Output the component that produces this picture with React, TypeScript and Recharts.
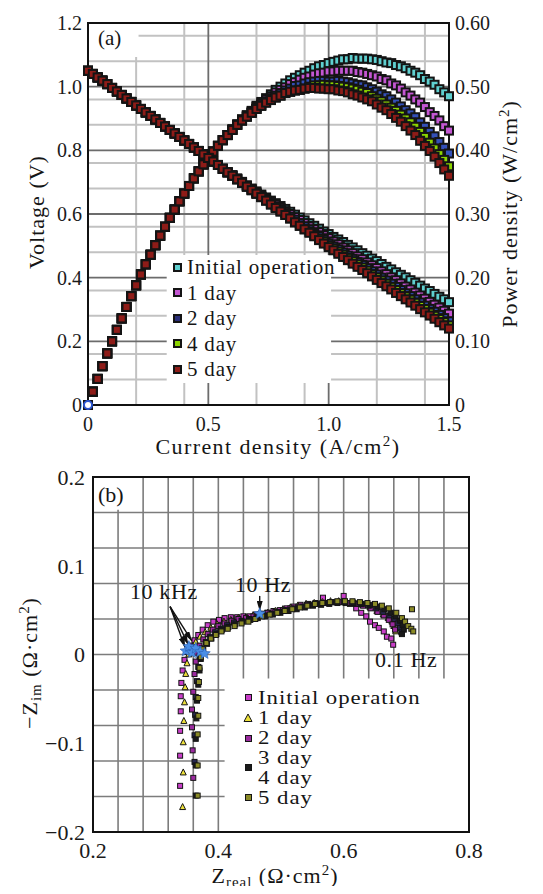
import React from 'react';
import { ScatterChart, Scatter, XAxis, YAxis, CartesianGrid, ReferenceArea, ReferenceLine } from 'recharts';

const FONT = '"Liberation Serif", "Times New Roman", serif';

// ---------- (a) voltage & power density vs current density ----------
const currentDensity = [
  0, 0.02, 0.04, 0.06, 0.08, 0.1, 0.12, 0.14, 0.16, 0.18,
  0.2, 0.22, 0.24, 0.26, 0.28, 0.3, 0.32, 0.34, 0.36, 0.38,
  0.4, 0.42, 0.44, 0.46, 0.48, 0.5, 0.52, 0.54, 0.56, 0.58,
  0.6, 0.62, 0.64, 0.66, 0.68, 0.7, 0.72, 0.74, 0.76, 0.78,
  0.8, 0.82, 0.84, 0.86, 0.88, 0.9, 0.92, 0.94, 0.96, 0.98,
  1.0, 1.02, 1.04, 1.06, 1.08, 1.1, 1.12, 1.14, 1.16, 1.18,
  1.2, 1.22, 1.24, 1.26, 1.28, 1.3, 1.32, 1.34, 1.36, 1.38,
  1.4, 1.42, 1.44, 1.46, 1.48, 1.5,
];

const voltageInitial = [
  1.050, 1.040, 1.029, 1.019, 1.008, 0.996, 0.985, 0.974, 0.963, 0.952,
  0.941, 0.930, 0.919, 0.908, 0.897, 0.886, 0.875, 0.864, 0.853, 0.842,
  0.831, 0.820, 0.809, 0.798, 0.787, 0.776, 0.765, 0.754, 0.742, 0.731,
  0.722, 0.712, 0.701, 0.690, 0.680, 0.671, 0.661, 0.652, 0.642, 0.634,
  0.625, 0.616, 0.607, 0.598, 0.589, 0.580, 0.571, 0.563, 0.554, 0.545,
  0.537, 0.528, 0.520, 0.512, 0.503, 0.495, 0.486, 0.477, 0.469, 0.460,
  0.452, 0.443, 0.434, 0.426, 0.417, 0.409, 0.401, 0.392, 0.384, 0.375,
  0.366, 0.358, 0.349, 0.340, 0.332, 0.323,
];
const voltage1Day = [
  1.050, 1.040, 1.029, 1.019, 1.008, 0.996, 0.985, 0.974, 0.963, 0.952,
  0.941, 0.930, 0.919, 0.908, 0.897, 0.886, 0.875, 0.864, 0.853, 0.842,
  0.831, 0.820, 0.809, 0.798, 0.787, 0.776, 0.765, 0.754, 0.742, 0.731,
  0.721, 0.710, 0.699, 0.689, 0.678, 0.668, 0.658, 0.648, 0.638, 0.629,
  0.619, 0.609, 0.600, 0.590, 0.581, 0.571, 0.561, 0.552, 0.543, 0.533,
  0.524, 0.514, 0.505, 0.495, 0.486, 0.477, 0.467, 0.458, 0.448, 0.439,
  0.430, 0.420, 0.411, 0.401, 0.392, 0.382, 0.372, 0.363, 0.353, 0.344,
  0.334, 0.324, 0.315, 0.306, 0.296, 0.287,
];
const voltage2Day = [
  1.050, 1.040, 1.029, 1.019, 1.008, 0.996, 0.985, 0.974, 0.963, 0.952,
  0.941, 0.930, 0.919, 0.908, 0.897, 0.886, 0.875, 0.864, 0.853, 0.842,
  0.831, 0.820, 0.809, 0.798, 0.787, 0.776, 0.765, 0.754, 0.742, 0.731,
  0.720, 0.709, 0.698, 0.686, 0.675, 0.664, 0.654, 0.644, 0.634, 0.623,
  0.613, 0.603, 0.592, 0.582, 0.571, 0.561, 0.551, 0.540, 0.530, 0.519,
  0.508, 0.498, 0.489, 0.479, 0.469, 0.459, 0.449, 0.440, 0.430, 0.420,
  0.410, 0.400, 0.391, 0.381, 0.371, 0.361, 0.351, 0.342, 0.332, 0.322,
  0.312, 0.302, 0.293, 0.283, 0.273, 0.263,
];
const voltage4Day = [
  1.050, 1.040, 1.029, 1.019, 1.008, 0.996, 0.985, 0.974, 0.963, 0.952,
  0.941, 0.930, 0.919, 0.908, 0.897, 0.886, 0.875, 0.864, 0.853, 0.842,
  0.831, 0.820, 0.809, 0.798, 0.787, 0.776, 0.765, 0.754, 0.742, 0.731,
  0.720, 0.709, 0.698, 0.686, 0.675, 0.664, 0.653, 0.642, 0.630, 0.619,
  0.608, 0.597, 0.586, 0.574, 0.563, 0.552, 0.544, 0.534, 0.523, 0.513,
  0.502, 0.492, 0.482, 0.472, 0.462, 0.452, 0.442, 0.432, 0.422, 0.411,
  0.401, 0.391, 0.381, 0.371, 0.361, 0.351, 0.341, 0.331, 0.321, 0.311,
  0.301, 0.290, 0.280, 0.270, 0.260, 0.250,
];
const voltage5Day = [
  1.050, 1.040, 1.029, 1.019, 1.008, 0.996, 0.985, 0.974, 0.963, 0.952,
  0.941, 0.930, 0.919, 0.908, 0.897, 0.886, 0.875, 0.864, 0.853, 0.842,
  0.831, 0.820, 0.809, 0.798, 0.787, 0.776, 0.765, 0.754, 0.742, 0.731,
  0.720, 0.709, 0.698, 0.686, 0.675, 0.664, 0.653, 0.642, 0.630, 0.619,
  0.608, 0.597, 0.586, 0.574, 0.563, 0.552, 0.541, 0.530, 0.518, 0.507,
  0.496, 0.486, 0.475, 0.465, 0.455, 0.444, 0.434, 0.424, 0.414, 0.404,
  0.393, 0.383, 0.373, 0.363, 0.352, 0.342, 0.332, 0.322, 0.312, 0.301,
  0.291, 0.281, 0.271, 0.260, 0.250, 0.240,
];

const powerInitial = [
  0, 0.021, 0.041, 0.061, 0.081, 0.100, 0.118, 0.136, 0.154, 0.171,
  0.188, 0.205, 0.221, 0.236, 0.251, 0.266, 0.280, 0.294, 0.307, 0.320,
  0.332, 0.344, 0.356, 0.367, 0.378, 0.388, 0.398, 0.407, 0.416, 0.424,
  0.433, 0.441, 0.449, 0.455, 0.462, 0.470, 0.476, 0.482, 0.488, 0.495,
  0.500, 0.505, 0.510, 0.514, 0.518, 0.522, 0.525, 0.529, 0.532, 0.534,
  0.537, 0.539, 0.541, 0.543, 0.543, 0.545, 0.544, 0.544, 0.544, 0.543,
  0.542, 0.540, 0.538, 0.537, 0.534, 0.532, 0.529, 0.525, 0.522, 0.518,
  0.512, 0.508, 0.503, 0.496, 0.491, 0.485,
];
const power1Day = [
  0, 0.021, 0.041, 0.061, 0.081, 0.100, 0.118, 0.136, 0.154, 0.171,
  0.188, 0.205, 0.221, 0.236, 0.251, 0.266, 0.280, 0.294, 0.307, 0.320,
  0.332, 0.344, 0.356, 0.367, 0.378, 0.388, 0.398, 0.407, 0.416, 0.424,
  0.433, 0.440, 0.447, 0.455, 0.461, 0.468, 0.474, 0.480, 0.485, 0.491,
  0.495, 0.499, 0.504, 0.507, 0.511, 0.514, 0.516, 0.519, 0.521, 0.522,
  0.524, 0.524, 0.525, 0.525, 0.525, 0.525, 0.523, 0.522, 0.520, 0.518,
  0.516, 0.512, 0.510, 0.505, 0.502, 0.497, 0.491, 0.486, 0.480, 0.475,
  0.468, 0.460, 0.454, 0.447, 0.438, 0.431,
];
const power2Day = [
  0, 0.021, 0.041, 0.061, 0.081, 0.100, 0.118, 0.136, 0.154, 0.171,
  0.188, 0.205, 0.221, 0.236, 0.251, 0.266, 0.280, 0.294, 0.307, 0.320,
  0.332, 0.344, 0.356, 0.367, 0.378, 0.388, 0.398, 0.407, 0.416, 0.424,
  0.432, 0.440, 0.447, 0.453, 0.459, 0.465, 0.471, 0.477, 0.482, 0.486,
  0.490, 0.494, 0.497, 0.501, 0.502, 0.505, 0.507, 0.508, 0.509, 0.509,
  0.508, 0.508, 0.509, 0.508, 0.507, 0.505, 0.503, 0.502, 0.499, 0.496,
  0.492, 0.488, 0.485, 0.480, 0.475, 0.469, 0.463, 0.458, 0.452, 0.444,
  0.437, 0.429, 0.422, 0.413, 0.404, 0.395,
];
const power4Day = [
  0, 0.021, 0.041, 0.061, 0.081, 0.100, 0.118, 0.136, 0.154, 0.171,
  0.188, 0.205, 0.221, 0.236, 0.251, 0.266, 0.280, 0.294, 0.307, 0.320,
  0.332, 0.344, 0.356, 0.367, 0.378, 0.388, 0.398, 0.407, 0.416, 0.424,
  0.432, 0.440, 0.447, 0.453, 0.459, 0.465, 0.470, 0.475, 0.479, 0.483,
  0.486, 0.490, 0.492, 0.494, 0.495, 0.497, 0.500, 0.502, 0.502, 0.503,
  0.502, 0.502, 0.501, 0.500, 0.499, 0.497, 0.495, 0.492, 0.490, 0.485,
  0.481, 0.477, 0.472, 0.467, 0.462, 0.456, 0.450, 0.444, 0.437, 0.429,
  0.421, 0.412, 0.403, 0.394, 0.385, 0.375,
];
const power5Day = [
  0, 0.021, 0.041, 0.061, 0.081, 0.100, 0.118, 0.136, 0.154, 0.171,
  0.188, 0.205, 0.221, 0.236, 0.251, 0.266, 0.280, 0.294, 0.307, 0.320,
  0.332, 0.344, 0.356, 0.367, 0.378, 0.388, 0.398, 0.407, 0.416, 0.424,
  0.432, 0.440, 0.447, 0.453, 0.459, 0.465, 0.470, 0.475, 0.479, 0.483,
  0.486, 0.490, 0.492, 0.494, 0.495, 0.497, 0.498, 0.498, 0.497, 0.497,
  0.496, 0.496, 0.494, 0.493, 0.491, 0.488, 0.486, 0.483, 0.480, 0.477,
  0.472, 0.467, 0.463, 0.457, 0.451, 0.445, 0.438, 0.431, 0.424, 0.415,
  0.407, 0.399, 0.390, 0.380, 0.370, 0.360,
];
const originPoint = [{ x: 0, y: 0 }];

const currentTicks = [0, 0.5, 1.0, 1.5];
const voltageTicks = [0, 0.2, 0.4, 0.6, 0.8, 1.0, 1.2];
const powerTicks = [0, 0.1, 0.2, 0.3, 0.4, 0.5, 0.6];

// ---------- (b) impedance spectra (Zreal, -Zim) ----------
const nyqInitial = [
  [0.339, -0.148], [0.339, -0.114], [0.339, -0.086], [0.340, -0.064], [0.340, -0.047], [0.341, -0.032],
  [0.343, -0.018], [0.346, -0.006], [0.350, 0.003], [0.356, 0.010], [0.362, 0.016], [0.368, 0.022],
  [0.375, 0.028], [0.383, 0.033], [0.392, 0.037], [0.401, 0.039], [0.410, 0.041], [0.420, 0.042],
  [0.430, 0.042], [0.440, 0.043], [0.450, 0.043], [0.459, 0.045], [0.468, 0.046], [0.478, 0.047],
  [0.488, 0.049], [0.498, 0.050], [0.509, 0.052], [0.520, 0.054], [0.531, 0.056], [0.543, 0.057],
  [0.555, 0.058], [0.567, 0.064], [0.580, 0.059], [0.590, 0.059], [0.600, 0.066], [0.610, 0.057],
  [0.620, 0.052], [0.628, 0.047], [0.636, 0.043], [0.642, 0.037], [0.650, 0.033], [0.656, 0.030],
  [0.664, 0.026], [0.669, 0.020], [0.676, 0.018], [0.679, 0.011],
];
const nyq1Day = [
  [0.343, -0.172], [0.344, -0.133], [0.344, -0.099], [0.345, -0.075], [0.346, -0.054], [0.347, -0.037],
  [0.348, -0.022], [0.350, -0.010], [0.353, 0.000], [0.358, 0.008], [0.364, 0.014], [0.371, 0.020],
  [0.379, 0.025], [0.388, 0.030], [0.398, 0.034], [0.409, 0.037], [0.420, 0.039], [0.432, 0.041],
  [0.444, 0.042], [0.456, 0.044], [0.467, 0.045], [0.479, 0.047], [0.491, 0.049], [0.503, 0.051],
  [0.515, 0.053], [0.527, 0.055], [0.540, 0.057], [0.553, 0.058], [0.566, 0.059], [0.579, 0.060],
  [0.592, 0.060], [0.605, 0.059], [0.618, 0.058], [0.630, 0.056], [0.642, 0.053], [0.653, 0.049],
  [0.663, 0.045], [0.671, 0.041], [0.677, 0.037], [0.680, 0.032], [0.683, 0.026],
];
const nyq2Day = [
  [0.360, -0.139], [0.359, -0.108], [0.358, -0.082], [0.358, -0.062], [0.360, -0.042], [0.362, -0.022],
  [0.364, -0.008], [0.366, 0.002], [0.370, 0.010], [0.376, 0.017], [0.383, 0.023], [0.391, 0.028],
  [0.400, 0.032], [0.410, 0.035], [0.421, 0.038], [0.432, 0.040], [0.444, 0.041], [0.456, 0.043],
  [0.467, 0.045], [0.479, 0.047], [0.491, 0.048], [0.503, 0.050], [0.515, 0.052], [0.528, 0.054],
  [0.541, 0.056], [0.554, 0.057], [0.567, 0.058], [0.580, 0.059], [0.593, 0.059], [0.606, 0.058],
  [0.619, 0.057], [0.631, 0.055], [0.643, 0.052], [0.654, 0.048], [0.664, 0.044], [0.672, 0.039],
  [0.678, 0.034], [0.682, 0.028],
];
const nyq3Day = [
  [0.362, -0.121], [0.362, -0.091], [0.363, -0.068], [0.364, -0.048], [0.366, -0.030], [0.368, -0.014],
  [0.370, -0.002], [0.374, 0.007], [0.380, 0.014], [0.387, 0.020], [0.395, 0.025], [0.404, 0.029],
  [0.414, 0.033], [0.425, 0.036], [0.437, 0.038], [0.449, 0.040], [0.461, 0.042], [0.473, 0.044],
  [0.485, 0.046], [0.497, 0.048], [0.510, 0.050], [0.523, 0.052], [0.536, 0.054], [0.549, 0.056],
  [0.562, 0.057], [0.575, 0.058], [0.588, 0.059], [0.601, 0.059], [0.614, 0.058], [0.627, 0.057],
  [0.640, 0.055], [0.652, 0.052], [0.663, 0.048], [0.673, 0.044], [0.681, 0.040], [0.687, 0.035],
  [0.690, 0.030], [0.692, 0.025],
];
const nyq4Day = [
  [0.364, -0.159], [0.364, -0.125], [0.364, -0.095], [0.365, -0.072], [0.366, -0.052], [0.368, -0.034],
  [0.370, -0.018], [0.372, -0.005], [0.376, 0.005], [0.382, 0.012], [0.389, 0.018], [0.397, 0.023],
  [0.406, 0.028], [0.416, 0.031], [0.427, 0.034], [0.439, 0.037], [0.451, 0.039], [0.463, 0.041],
  [0.475, 0.043], [0.487, 0.045], [0.499, 0.047], [0.512, 0.049], [0.525, 0.051], [0.538, 0.053],
  [0.551, 0.055], [0.564, 0.056], [0.577, 0.057], [0.590, 0.058], [0.603, 0.058], [0.616, 0.058],
  [0.629, 0.057], [0.642, 0.056], [0.654, 0.054], [0.665, 0.051], [0.675, 0.047], [0.683, 0.043],
  [0.690, 0.038], [0.694, 0.033], [0.696, 0.028], [0.693, 0.023],
];
const nyq5Day = [
  [0.367, -0.159], [0.367, -0.125], [0.367, -0.090], [0.368, -0.069], [0.368, -0.049], [0.369, -0.031],
  [0.370, -0.015], [0.372, -0.003], [0.375, 0.006], [0.381, 0.013], [0.388, 0.018], [0.396, 0.022],
  [0.405, 0.026], [0.415, 0.029], [0.426, 0.032], [0.437, 0.035], [0.448, 0.037], [0.459, 0.040],
  [0.470, 0.043], [0.482, 0.045], [0.494, 0.047], [0.506, 0.049], [0.518, 0.051], [0.530, 0.053],
  [0.542, 0.055], [0.554, 0.057], [0.566, 0.058], [0.578, 0.059], [0.590, 0.060], [0.602, 0.060],
  [0.614, 0.060], [0.626, 0.059], [0.638, 0.058], [0.650, 0.057], [0.661, 0.055], [0.672, 0.052],
  [0.684, 0.047], [0.693, 0.041], [0.698, 0.037], [0.703, 0.032], [0.708, 0.029], [0.711, 0.026],
  [0.709, 0.051],
];
// highlighted 10 kHz and 10 Hz points
const nyqHighlight = [
  [0.348, 0.004], [0.353, 0.009], [0.358, 0.002], [0.364, 0.007], [0.371, 0.003], [0.378, 0.001], [0.466, 0.046],
];

const zRealTicks = [0.2, 0.4, 0.6, 0.8];
const zImTicks = [-0.2, -0.1, 0, 0.1, 0.2];

// grid lines (layout only)
const round = (v: number) => Math.round(v * 1000) / 1000;
const minorCurrent = Array.from({ length: 14 }, (_, i) => round(0.1 * (i + 1))).filter((v) => v !== 0.5 && v !== 1);
const minorVoltage = Array.from({ length: 29 }, (_, i) => round(0.04 * (i + 1))).filter((v) => Math.round(v * 1000) % 200 !== 0);
const gridZReal = Array.from({ length: 16 }, (_, i) => round(0.2 + 0.04 * i));
const gridZIm = Array.from({ length: 21 }, (_, i) => round(-0.2 + 0.02 * i));

const toPts = (xs: number[], ys: number[]) => xs.map((x, i) => ({ x, y: ys[i] }));
const pairPts = (arr: number[][]) => arr.map(([x, y]) => ({ x, y }));

const seriesA = [
  { name: 'Initial operation', color: '#5fd0d0', v: voltageInitial, p: powerInitial },
  { name: '1 day', color: '#c456d2', v: voltage1Day, p: power1Day },
  { name: '2 day', color: '#3350b8', v: voltage2Day, p: power2Day },
  { name: '4 day', color: '#8cd400', v: voltage4Day, p: power4Day },
  { name: '5 day', color: '#8e1c18', v: voltage5Day, p: power5Day },
];
const legendColorsA = ['#5fd0d0', '#c456d2', '#2a2e78', '#8cd400', '#8e1c18'];

const seriesB = [
  { name: 'Initial operation', color: '#c83ec8', data: nyqInitial, tri: false },
  { name: '1 day', color: '#ece03a', data: nyq1Day, tri: true },
  { name: '2 day', color: '#9a2a9e', data: nyq2Day, tri: false },
  { name: '3 day', color: '#26264e', data: nyq3Day, tri: false },
  { name: '4 day', color: '#1a1a1a', data: nyq4Day, tri: false },
  { name: '5 day', color: '#8a8a26', data: nyq5Day, tri: false },
];

const square = (fill: string, size: number, sw: number) => (props: any) => (
  <rect x={props.cx - size / 2} y={props.cy - size / 2} width={size} height={size} fill={fill} stroke="#141414" strokeWidth={sw} />
);
const triangle = (fill: string, size: number) => (props: any) => (
  <polygon
    points={`${props.cx},${props.cy - size * 0.6} ${props.cx - size / 2},${props.cy + size * 0.4} ${props.cx + size / 2},${props.cy + size * 0.4}`}
    fill={fill}
    stroke="#141414"
    strokeWidth={1}
  />
);
const star = (fill: string, r: number) => (props: any) => {
  const pts: string[] = [];
  for (let k = 0; k < 10; k++) {
    const rad = k % 2 === 0 ? r : r * 0.45;
    const a = (Math.PI / 5) * k - Math.PI / 2;
    pts.push(`${props.cx + rad * Math.cos(a)},${props.cy + rad * Math.sin(a)}`);
  }
  return <polygon points={pts.join(' ')} fill={fill} stroke="#2a5cb0" strokeWidth={0.6} />;
};
const ring = (props: any) => <circle cx={props.cx} cy={props.cy} r={4} fill="#fff" stroke="#2a55d0" strokeWidth={2} />;

const tickStyle = (size: number) => ({ fill: '#1a1a1a', fontSize: size, fontFamily: FONT });
const frame = { stroke: '#111', strokeWidth: 2 };
const fmtA = (v: number) => (v === 0 ? '0' : v.toFixed(1));
const fmtP = (v: number) => (v === 0 ? '0' : v.toFixed(2));
const fmtB = (v: number) => (v === 0 ? '0' : (v < 0 ? '\u2212' : '') + Math.abs(v).toFixed(1));

const sup = (s: string) => <span style={{ fontSize: '0.68em', position: 'relative', top: '-0.55em' }}>{s}</span>;
const sub = (s: string) => <span style={{ fontSize: '0.68em', position: 'relative', top: '0.3em' }}>{s}</span>;

function Txt({ x, y, size, children, center = false, rotate = false, spacing = 0, lh = 1, stretch = 1 }: any) {
  const base = rotate ? 'translate(-50%,-50%) rotate(-90deg)' : center ? 'translate(-50%,-50%)' : 'translateY(-50%)';
  const transform = stretch !== 1 ? `${base} scaleX(${stretch})` : base;
  return (
    <div
      style={{
        position: 'absolute', left: x, top: y, transform, transformOrigin: rotate || center ? '50% 50%' : '0 50%',
        whiteSpace: 'nowrap', fontFamily: FONT, fontSize: size, lineHeight: lh, color: '#151515',
        letterSpacing: spacing, pointerEvents: 'none',
      }}
    >
      {children}
    </div>
  );
}

function Swatch({ x, y, color, size, border }: any) {
  return (
    <div
      style={{
        position: 'absolute', left: x - size / 2, top: y - size / 2, width: size, height: size,
        boxSizing: 'border-box', background: color, border: `${border}px solid #141414`,
      }}
    />
  );
}

function PanelA() {
  const legendRows = [259, 284.5, 310, 335.5, 361];
  return (
    <div style={{ position: 'relative', width: 527, height: 440 }}>
      <ScatterChart width={527} height={440} margin={{ top: 15, right: 26, left: 0, bottom: 13 }}>
        <CartesianGrid yAxisId="v" stroke="#c2c2c2" strokeWidth={2} horizontalValues={minorVoltage} verticalValues={minorCurrent} />
        <CartesianGrid yAxisId="v" stroke="#6c6c6c" strokeWidth={1.8} horizontalValues={voltageTicks} verticalValues={currentTicks} />
        <XAxis
          type="number" dataKey="x" domain={[0, 1.5]} ticks={currentTicks} tickFormatter={fmtA}
          height={30} tickSize={0} tickMargin={12} axisLine={frame} tickLine={false} tick={tickStyle(20)}
        />
        <YAxis
          yAxisId="v" type="number" dataKey="y" domain={[0, 1.2]} ticks={voltageTicks} tickFormatter={fmtA}
          width={80} tickSize={0} tickMargin={6} axisLine={frame} tickLine={false} tick={tickStyle(20)}
        />
        <YAxis
          yAxisId="p" orientation="right" type="number" dataKey="y" domain={[0, 0.6]} ticks={powerTicks} tickFormatter={fmtP}
          width={60} tickSize={0} tickMargin={6} axisLine={frame} tickLine={false} tick={tickStyle(20)}
        />
        <ReferenceArea yAxisId="v" x1={0} x2={0.21} y1={1.093} y2={1.2} fill="#fff" fillOpacity={1} stroke="none" />
        <ReferenceArea yAxisId="v" x1={0.327} x2={1.01} y1={0.069} y2={0.471} fill="#fff" fillOpacity={1} stroke="none" />
        {seriesA.map((s) => (
          <Scatter
            key={`p-${s.name}`} name={s.name} yAxisId="p" data={toPts(currentDensity, s.p)}
            shape={square(s.color, 8, 2)} isAnimationActive={false}
          />
        ))}
        {seriesA.map((s) => (
          <Scatter
            key={`v-${s.name}`} name={s.name} yAxisId="v" data={toPts(currentDensity, s.v)}
            shape={square(s.color, 8, 2)} isAnimationActive={false}
          />
        ))}
        <Scatter yAxisId="p" data={originPoint} shape={ring} isAnimationActive={false} />
        <ReferenceArea yAxisId="v" x1={0} x2={1.5} y1={0} y2={1.2} fill="none" stroke="#111" strokeWidth={2} />
      </ScatterChart>
      <Txt x={90} y={30} size={21}>(a)</Txt>
      {seriesA.map((s, i) => (
        <React.Fragment key={s.name}>
          <Swatch x={169} y={legendRows[i]} color={legendColorsA[i]} size={9} border={2} />
          <Txt x={179} y={legendRows[i]} size={21} spacing={0.8}>{s.name}</Txt>
        </React.Fragment>
      ))}
      <Txt x={29} y={204} size={22} rotate spacing={1}>Voltage (V)</Txt>
      <Txt x={502} y={206} size={22} rotate spacing={1}>Power density (W/cm{sup('2')})</Txt>
      <Txt x={270} y={439} size={22} center spacing={1.4}>Current density (A/cm{sup('2')})</Txt>
    </div>
  );
}

function PanelB() {
  const rows = [249, 269, 289, 309, 329, 349];
  const markerRows = [
    { y: 249, color: '#c83ec8', tri: false },
    { y: 270, color: '#ece03a', tri: true },
    { y: 290, color: '#9a2a9e', tri: false },
    { y: 319, color: '#1a1a1a', tri: false },
    { y: 349, color: '#8a8a26', tri: false },
  ];
  return (
    <div style={{ position: 'relative', width: 527, height: 438 }}>
      <svg width={0} height={0} style={{ position: 'absolute' }}>
        <defs>
          <marker id="ahead" markerWidth="10" markerHeight="6" refX="10" refY="3" orient="auto" markerUnits="userSpaceOnUse">
            <path d="M0,0 L10,3 L0,6 z" fill="#111" />
          </marker>
        </defs>
      </svg>
      <ScatterChart width={527} height={438} margin={{ top: 29, right: 66, left: 0, bottom: 24 }}>
        <CartesianGrid stroke="#7c7c7c" strokeWidth={1.6} horizontalValues={gridZIm} verticalValues={gridZReal} />
        <XAxis
          type="number" dataKey="x" domain={[0.2, 0.8]} ticks={zRealTicks} tickFormatter={fmtB}
          height={30} tickSize={0} tickMargin={10} axisLine={frame} tickLine={false} tick={tickStyle(22)}
        />
        <YAxis
          type="number" dataKey="y" domain={[-0.2, 0.2]} ticks={zImTicks} tickFormatter={fmtB}
          width={85} tickSize={0} tickMargin={8} axisLine={frame} tickLine={false} tick={tickStyle(22)}
        />
        <ReferenceArea x1={0.2} x2={0.275} y1={0.163} y2={0.2} fill="#fff" fillOpacity={1} stroke="none" />
        <ReferenceArea x1={0.41} x2={0.8} y1={-0.2} y2={-0.027} fill="#fff" fillOpacity={1} stroke="none" />
        {seriesB.map((s) => (
          <Scatter
            key={s.name} name={s.name} data={pairPts(s.data)}
            shape={s.tri ? triangle(s.color, 6) : square(s.color, 5, 1)} isAnimationActive={false}
          />
        ))}
        <Scatter data={pairPts(nyqHighlight)} shape={star('#4a8ee6', 6)} isAnimationActive={false} />
        <ReferenceLine segment={[{ x: 0.323, y: 0.054 }, { x: 0.347, y: 0.008 }]} stroke="#111" strokeWidth={1.4} markerEnd="url(#ahead)" />
        <ReferenceLine segment={[{ x: 0.323, y: 0.054 }, { x: 0.352, y: 0.011 }]} stroke="#111" strokeWidth={1.4} markerEnd="url(#ahead)" />
        <ReferenceLine segment={[{ x: 0.323, y: 0.054 }, { x: 0.358, y: 0.015 }]} stroke="#111" strokeWidth={1.4} markerEnd="url(#ahead)" />
        <ReferenceLine segment={[{ x: 0.466, y: 0.066 }, { x: 0.466, y: 0.049 }]} stroke="#111" strokeWidth={1.4} markerEnd="url(#ahead)" />
        <ReferenceArea x1={0.2} x2={0.8} y1={-0.2} y2={0.2} fill="none" stroke="#111" strokeWidth={2} />
      </ScatterChart>
      <Txt x={90} y={47} size={22}>(b)</Txt>
      <Txt x={122} y={144} size={22} spacing={0.6}>10 kHz</Txt>
      <Txt x={227} y={137} size={22} spacing={0.6}>10 Hz</Txt>
      <Txt x={367} y={212} size={22} spacing={0.6}>0.1 Hz</Txt>
      {markerRows.map((m) =>
        m.tri ? (
          <svg key={m.y} width={10} height={10} style={{ position: 'absolute', left: 235, top: m.y - 5 }}>
            <polygon points="5,1 1,8.5 9,8.5" fill={m.color} stroke="#141414" strokeWidth={1} />
          </svg>
        ) : (
          <Swatch key={m.y} x={240} y={m.y} color={m.color} size={7} border={1.2} />
        )
      )}
      {seriesB.map((s, i) => (
        <Txt key={s.name} x={250} y={rows[i]} size={19} spacing={0.8} lh="17px" stretch={1.2}>{s.name}</Txt>
      ))}
      <Txt x={22} y={215} size={22} rotate spacing={1}>{'\u2212'}Z{sub('im')} ({'\u03A9'}{'\u00B7'}cm{sup('2')})</Txt>
      <Txt x={267} y={429} size={22} center spacing={1} lh="20px">Z{sub('real')} ({'\u03A9'}{'\u00B7'}cm{sup('2')})</Txt>
    </div>
  );
}

export default function App() {
  return (
    <div style={{ width: 527, fontFamily: FONT }}>
      <style>{'html, body { overflow: hidden; }'}</style>
      <PanelA />
      <PanelB />
    </div>
  );
}
